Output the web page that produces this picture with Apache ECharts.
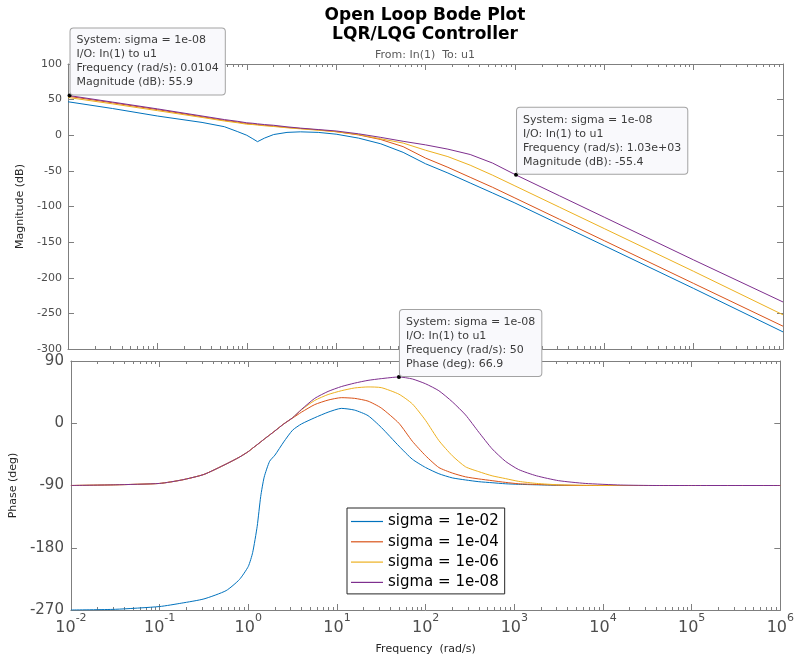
<!DOCTYPE html>
<html><head><meta charset="utf-8">
<script src="https://cdn.jsdelivr.net/npm/echarts@6/dist/echarts.min.js"></script>
<style>html,body{margin:0;padding:0;background:#fff}#c{width:797px;height:659px}</style>
</head><body><div id="c"></div>
<script>
// ---------- data ----------
const seriesNames = ['sigma = 1e-02', 'sigma = 1e-04', 'sigma = 1e-06', 'sigma = 1e-08'];
const seriesColors = ['#0072BD', '#D95319', '#EDB120', '#7E2F8E'];

// magnitude (dB) vs frequency (rad/s)
const magFreq = [0.01, 0.0316, 0.1, 0.316, 0.562, 0.794, 1, 1.17, 1.32, 1.58, 2, 2.82, 3.98, 6.31, 10, 17.8, 31.6, 56.2, 100, 178, 316, 562, 1000, 3160, 10000, 100000, 1000000];
const magS2 = [47, 37.5, 27, 18, 12, 5, 0, -5, -9, -4, 1, 4, 4.8, 4, 1.5, -4, -12, -24, -40, -53, -67, -81, -95, -125, -155, -215, -276];
const magS4 = [54.8, 45.5, 36, 26, 21, 18.5, 16.5, 15.8, 15, 14, 13, 11, 9.5, 7.5, 5, 0.5, -6, -16, -32, -45, -59, -73, -88, -118, -148, -208, -268];
const magS6 = [53, 44, 34.5, 25, 20, 17.5, 15.5, 15, 14.3, 13.3, 12.3, 10.5, 9, 7, 5, 1, -5, -11, -21, -30, -42, -56, -71, -101, -131, -191, -252];
const magS8 = [55.9, 46.5, 37, 27, 22, 19.5, 17.5, 16.8, 16, 15, 14, 11.8, 10, 8, 6, 2, -3, -8.5, -13.5, -19.5, -27, -39, -55, -85, -115, -175, -234];

// phase (deg) vs frequency (rad/s)
const phaseFreq = [0.01, 0.0316, 0.1, 0.178, 0.316, 0.562, 0.794, 1, 1.12, 1.26, 1.38, 1.51, 1.74, 2, 2.51, 3.16, 3.98, 5.62, 7.94, 11.2, 15.8, 22.4, 31.6, 50, 70.8, 100, 141, 200, 282, 398, 562, 794, 1120, 1780, 3160, 6310, 15800, 39800, 100000, 1000000];
const phaseS2 = [-270, -269, -265, -260, -254, -242, -226, -207, -187, -149, -106, -78, -55, -46, -27, -10, -1, 8, 16, 21.5, 19, 11, -6, -33, -52, -64, -73, -79, -82, -84.5, -86, -87.5, -88.3, -89, -89.7, -90, -90, -90, -90, -90];
const phaseS4 = [-90, -89, -87, -82, -74, -59, -49, -41, -36, -31, -27, -23, -17, -11, -1, 7.5, 16, 27, 33.5, 37, 36, 32, 22, 0, -26, -47, -64, -72, -77.5, -80.5, -83, -85.5, -87.5, -88.5, -89.5, -90, -90, -90, -90, -90];
const phaseS6 = [-90, -89, -87, -82, -74, -59, -49, -41, -36, -31, -27, -23, -17, -11, -1, 8, 19.5, 33, 41.5, 47, 51, 52.5, 51.5, 42, 28, 4, -25, -47, -63, -70, -76, -80, -84, -87, -89, -89.7, -90, -90, -90, -90];
const phaseS8 = [-90, -89, -87, -82, -74, -59, -49, -41, -36, -31, -27, -23, -17, -11, -1, 8, 20, 36, 46, 53, 58, 62, 64.5, 66.9, 64, 57, 47, 31, 12, -13, -37, -55, -67, -76, -83, -87, -89.3, -90, -90, -90];

// data tips
const tipMagLow = { freq: 0.0104, value: 55.9, lines: ['System: sigma = 1e-08', 'I/O: In(1) to u1', 'Frequency (rad/s): 0.0104', 'Magnitude (dB): 55.9'] };
const tipMagHigh = { freq: 1030, value: -55.4, lines: ['System: sigma = 1e-08', 'I/O: In(1) to u1', 'Frequency (rad/s): 1.03e+03', 'Magnitude (dB): -55.4'] };
const tipPhase = { freq: 50, value: 66.9, lines: ['System: sigma = 1e-08', 'I/O: In(1) to u1', 'Frequency (rad/s): 50', 'Phase (deg): 66.9'] };

// axis ticks / labels
const decadeExponents = [-2, -1, 0, 1, 2, 3, 4, 5, 6];
const magTicks = { min: -300, max: 100, step: 50 };
const phaseTicks = { min: -270, max: 90, step: 90 };

// ---------- chart ----------
const FONT = '"DejaVu Sans", sans-serif';
const AXIS_COLOR = '#7f7f7f';
const LABEL_COLOR = '#4d4d4d';
const xMin = decadeExponents[0], xMax = decadeExponents[decadeExponents.length - 1];

const minorTickValues = [];
for (let e = xMin; e < xMax; e++) for (let k = 2; k <= 9; k++) minorTickValues.push(e + Math.log10(k));

function pts(freq, vals) { return freq.map((f, i) => [Math.log10(f), vals[i]]); }

function xMajor(grid, pos, withLabels) {
  return {
    type: 'value', gridIndex: grid, position: pos, min: xMin, max: xMax, interval: 1,
    axisLine: { show: true, onZero: false, lineStyle: { color: AXIS_COLOR, width: 1 } },
    axisTick: { show: true, inside: true, length: 6, lineStyle: { color: AXIS_COLOR } },
    splitLine: { show: false },
    axisLabel: withLabels ? {
      show: true, margin: 3,
      formatter: v => '{b|10}{s|' + Math.round(v) + '}',
      rich: {
        b: { fontSize: 16, fontFamily: FONT, color: LABEL_COLOR, lineHeight: 23, verticalAlign: 'bottom' },
        s: { fontSize: 11, fontFamily: FONT, color: LABEL_COLOR, lineHeight: 23, verticalAlign: 'top' }
      }
    } : { show: false },
    name: withLabels ? 'Frequency  (rad/s)' : '',
    nameLocation: 'middle', nameGap: 34,
    nameTextStyle: { fontSize: 11, fontFamily: FONT, color: '#262626' }
  };
}
function xMinor(grid, pos) {
  return {
    type: 'value', gridIndex: grid, position: pos, min: xMin, max: xMax,
    axisLine: { show: false, onZero: false },
    axisTick: { show: true, inside: true, length: 3, customValues: minorTickValues, lineStyle: { color: AXIS_COLOR } },
    axisLabel: { show: false }, splitLine: { show: false }
  };
}
function yAx(grid, pos, t, withLabels, fontSize, name, nameGap, margin) {
  return {
    type: 'value', gridIndex: grid, position: pos, min: t.min, max: t.max, interval: t.step,
    axisLine: { show: true, onZero: false, lineStyle: { color: AXIS_COLOR, width: 1 } },
    axisTick: { show: true, inside: true, length: 6, lineStyle: { color: AXIS_COLOR } },
    splitLine: { show: false },
    axisLabel: withLabels ? { show: true, fontSize: fontSize, fontFamily: FONT, color: LABEL_COLOR, margin: margin } : { show: false },
    name: withLabels ? name : '', nameLocation: 'middle', nameGap: nameGap,
    nameTextStyle: { fontSize: 11, fontFamily: FONT, color: '#262626' }
  };
}

const tipLabel = {
  show: true, position: [3, 1], align: 'left', verticalAlign: 'bottom',
  backgroundColor: '#f9f9fc', borderColor: '#a3a3a3', borderWidth: 1, borderRadius: 3,
  padding: [5, 6, 5, 6], fontSize: 11, lineHeight: 14, fontFamily: FONT, color: '#3c3c3c'
};
function tip(t) {
  return { coord: [Math.log10(t.freq), t.value], label: Object.assign({}, tipLabel, { formatter: t.lines.join('\n') }) };
}
function markPt(tips) {
  return {
    symbol: 'circle', symbolSize: 4, itemStyle: { color: '#000' }, silent: true,
    label: tipLabel, data: tips.map(tip), z: 20
  };
}

const magData = [magS2, magS4, magS6, magS8];
const phaseData = [phaseS2, phaseS4, phaseS6, phaseS8];
const series = [];
magData.forEach((d, i) => series.push({
  type: 'line', name: seriesNames[i], xAxisIndex: 0, yAxisIndex: 0, data: pts(magFreq, d),
  symbol: 'none', lineStyle: { width: 1, color: seriesColors[i] }, itemStyle: { color: seriesColors[i] },
  silent: true, z: 3,
  markPoint: i === 3 ? markPt([tipMagLow, tipMagHigh]) : undefined
}));
phaseData.forEach((d, i) => series.push({
  type: 'line', name: seriesNames[i], xAxisIndex: 4, yAxisIndex: 2, data: pts(phaseFreq, d),
  symbol: 'none', smooth: 0.2, lineStyle: { width: 1, color: seriesColors[i] }, itemStyle: { color: seriesColors[i] },
  silent: true, z: 3,
  markPoint: i === 3 ? markPt([tipPhase]) : undefined
}));

const chart = echarts.init(document.getElementById('c'), null, { renderer: 'canvas' });
chart.setOption({
  animation: false,
  backgroundColor: '#ffffff',
  grid: [
    { left: 68, right: 14, top: 64, height: 285 },
    { left: 68, right: 14, top: 361, height: 249 }
  ],
  xAxis: [
    xMajor(0, 'bottom', false), xMajor(0, 'top', false), xMinor(0, 'bottom'), xMinor(0, 'top'),
    xMajor(1, 'bottom', true), xMajor(1, 'top', false), xMinor(1, 'bottom'), xMinor(1, 'top')
  ],
  yAxis: [
    yAx(0, 'left', magTicks, true, 11, 'Magnitude (dB)', 34, 6),
    yAx(0, 'right', magTicks, false),
    yAx(1, 'left', phaseTicks, true, 15, 'Phase (deg)', 47, 7),
    yAx(1, 'right', phaseTicks, false)
  ],
  legend: {
    orient: 'vertical', left: 347, top: 508, data: seriesNames,
    icon: 'rect', itemWidth: 32, itemHeight: 1.2, itemGap: 5.3, padding: [6, 6, 4, 4],
    borderColor: '#262626', borderWidth: 1, backgroundColor: '#ffffff',
    textStyle: { fontSize: 15, lineHeight: 14, fontFamily: FONT, color: '#000' },
    selectedMode: false, z: 10
  },
  graphic: [
    { type: 'text', x: 425, y: 16, style: { text: 'Open Loop Bode Plot', font: 'bold 17px "DejaVu Sans"', fill: '#000', align: 'center', verticalAlign: 'middle' } },
    { type: 'text', x: 425, y: 35, style: { text: 'LQR/LQG Controller', font: 'bold 17px "DejaVu Sans"', fill: '#000', align: 'center', verticalAlign: 'middle' } },
    { type: 'text', x: 425, y: 55, style: { text: 'From: In(1)  To: u1', font: '11px "DejaVu Sans"', fill: '#5a5a5a', align: 'center', verticalAlign: 'middle' } }
  ],
  series: series
});
</script></body></html>
